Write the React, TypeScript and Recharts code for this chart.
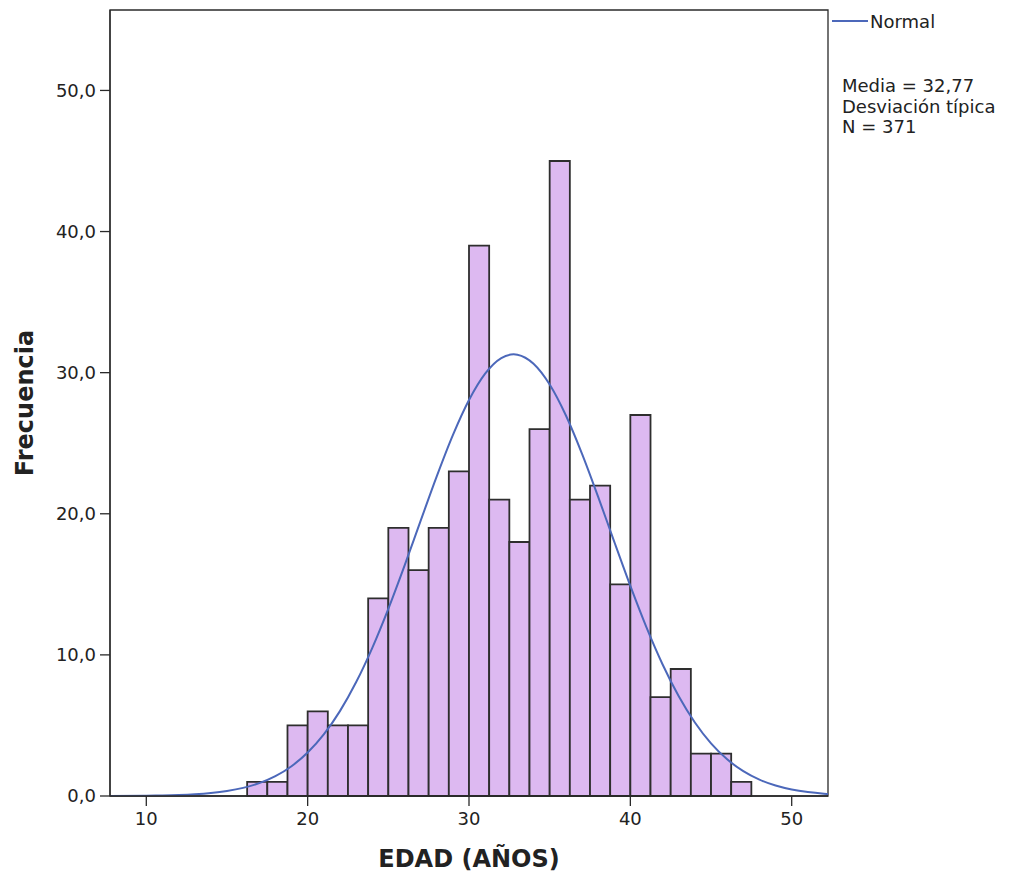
import React from 'react';
import { ComposedChart, XAxis, YAxis, Line, ReferenceArea } from 'recharts';

// Histogram bins (EDAD, años): lower/upper edges and frequencies
const binEdges = [16.25, 17.5, 18.75, 20, 21.25, 22.5, 23.75, 25, 26.25, 27.5, 28.75, 30, 31.25, 32.5, 33.75, 35, 36.25, 37.5, 38.75, 40, 41.25, 42.5, 43.75, 45, 46.25, 47.5];
const counts = [1, 1, 5, 6, 5, 5, 14, 19, 16, 19, 23, 39, 21, 18, 26, 45, 21, 22, 15, 27, 7, 9, 3, 3, 1];

// Normal curve
const curveX = [7.75, 10, 11, 12, 13, 14, 15, 16, 17, 18, 19, 20, 21, 22, 23, 24, 25, 26, 27, 28, 29, 30, 31, 32, 32.77, 33, 34, 35, 36, 37, 38, 39, 40, 41, 42, 43, 44, 45, 46, 47, 48, 49, 50, 51, 52, 52.25];
const curveY = [0.004, 0.02, 0.037, 0.068, 0.121, 0.209, 0.351, 0.574, 0.912, 1.407, 2.112, 3.08, 4.366, 6.015, 8.056, 10.486, 13.267, 16.312, 19.496, 22.65, 25.573, 28.065, 29.936, 31.037, 31.3, 31.276, 30.634, 29.163, 26.985, 24.27, 21.216, 18.025, 14.885, 11.948, 9.321, 7.068, 5.209, 3.732, 2.599, 1.758, 1.157, 0.739, 0.459, 0.278, 0.163, 0.142];

const xTicks = [10, 20, 30, 40, 50];
const yTicks = [0, 10, 20, 30, 40, 50];
const xDomain = [7.75, 52.25];
const yDomain = [0, 55.7];

const legendLines = ['Media = 32,77', 'Desviación típica', 'N = 371'];

const curveData = curveX.map((x, i) => ({ x, y: curveY[i] }));

const FONT = '"DejaVu Sans", sans-serif';
const AXIS = '#2a2a2a';

export default function App() {
  return (
    <div style={{ position: 'relative', width: 1001, height: 867, fontFamily: FONT }}>
      <ComposedChart
        width={1001}
        height={867}
        data={curveData}
        margin={{ top: 2, right: 181, bottom: 0, left: 0 }}
      >
        <XAxis
          dataKey="x"
          type="number"
          domain={xDomain}
          ticks={xTicks}
          allowDataOverflow
          height={79}
          tickSize={10}
          tickMargin={6}
          stroke={AXIS}
          strokeWidth={1.3}
          tick={{ fill: '#222', fontSize: 18, fontFamily: FONT }}
          label={(props: any) => {
            const vb = props.viewBox;
            return (
              <text x={vb.x + vb.width / 2} y={vb.y + 71} textAnchor="middle" fontFamily={FONT} fontWeight="bold" fontSize={24} fill="#222">
                EDAD (AÑOS)
              </text>
            );
          }}
        />
        <YAxis
          type="number"
          domain={yDomain}
          ticks={yTicks}
          allowDataOverflow
          width={102}
          tickSize={10}
          tickMargin={4}
          stroke={AXIS}
          strokeWidth={1.3}
          tickFormatter={(v: number) => v.toFixed(1).replace('.', ',')}
          tick={{ fill: '#222', fontSize: 18, fontFamily: FONT }}
          label={(props: any) => {
            const vb = props.viewBox;
            const cx = vb.x + 17;
            const cy = vb.y + vb.height / 2;
            return (
              <text x={cx} y={cy} transform={`rotate(-90 ${cx} ${cy})`} textAnchor="middle" dominantBaseline="central" fontFamily={FONT} fontWeight="bold" fontSize={24} fill="#222">
                Frecuencia
              </text>
            );
          }}
        />
        <ReferenceArea
          x1={xDomain[0]}
          x2={xDomain[1]}
          y1={yDomain[0]}
          y2={yDomain[1]}
          fill="none"
          fillOpacity={0}
          stroke={AXIS}
          strokeWidth={1.3}
        />
        {counts.map((c, i) => (
          <ReferenceArea
            key={i}
            x1={binEdges[i]}
            x2={binEdges[i + 1]}
            y1={0}
            y2={c}
            fill="#DDB9F1"
            fillOpacity={1}
            stroke="#2e2e2e"
            strokeWidth={1.8}
          />
        ))}
        <Line
          dataKey="y"
          type="monotone"
          stroke="#4C68BA"
          strokeWidth={2}
          dot={false}
          activeDot={false}
          isAnimationActive={false}
        />
      </ComposedChart>
      <div style={{ position: 'absolute', left: 824, top: 2, height: 22, display: 'flex', alignItems: 'center', fontSize: 18, color: '#222' }}>
        <svg width={36} height={4} style={{ display: 'block' }}>
          <line x1={0} y1={2} x2={36} y2={2} stroke="#4C68BA" strokeWidth={2} />
        </svg>
        <span style={{ marginLeft: 2 }}>Normal</span>
      </div>
      <div style={{ position: 'absolute', left: 834, top: 68, fontSize: 18, lineHeight: '20.5px', color: '#222', whiteSpace: 'nowrap' }}>
        {legendLines.map((t) => (
          <div key={t}>{t}</div>
        ))}
      </div>
    </div>
  );
}
